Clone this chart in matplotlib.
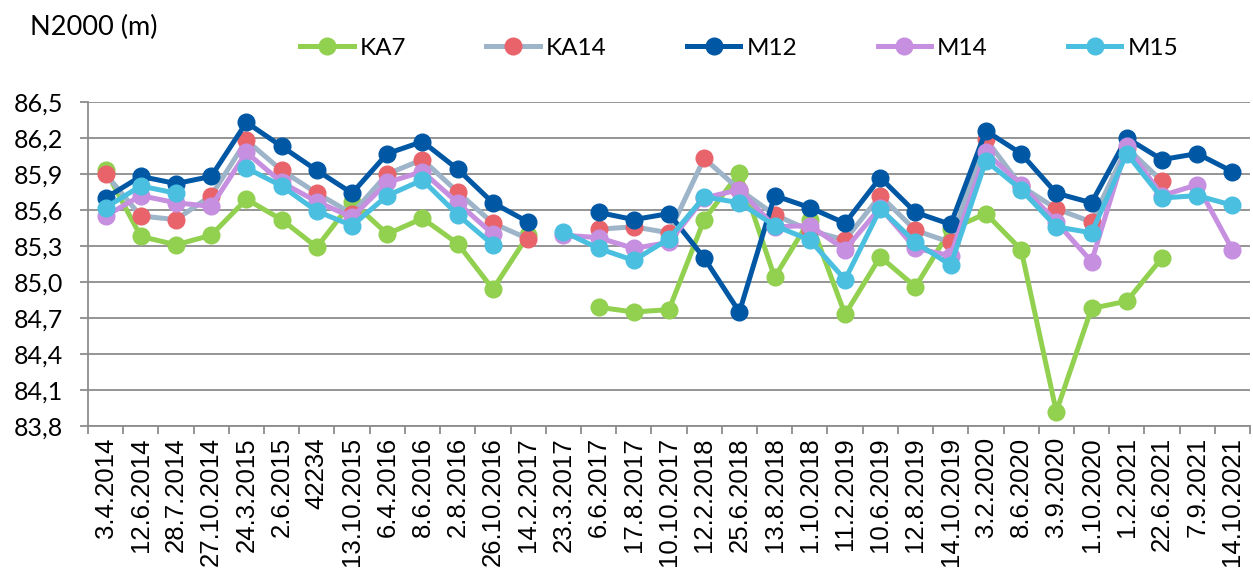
import numpy as np
import matplotlib
matplotlib.use("Agg")
import matplotlib.pyplot as plt

# sampling dates (x categories)
dates = ["3.4.2014", "12.6.2014", "28.7.2014", "27.10.2014", "24.3.2015", "2.6.2015",
         "42234", "13.10.2015", "6.4.2016", "8.6.2016", "2.8.2016", "26.10.2016",
         "14.2.2017", "23.3.2017", "6.6.2017", "17.8.2017", "10.10.2017", "12.2.2018",
         "25.6.2018", "13.8.2018", "1.10.2018", "11.2.2019", "10.6.2019", "12.8.2019",
         "14.10.2019", "3.2.2020", "8.6.2020", "3.9.2020", "1.10.2020", "1.2.2021",
         "22.6.2021", "7.9.2021", "14.10.2021"]

nan = np.nan
# water level N2000 (m) per well
ka7 = [85.93, 85.38, 85.31, 85.39, 85.69, 85.52, 85.29, 85.67, 85.40, 85.53, 85.32, 84.94,
       85.39, nan, 84.79, 84.75, 84.77, 85.52, 85.91, 85.04, 85.52, 84.73, 85.21, 84.96,
       85.44, 85.57, 85.27, 83.92, 84.78, 84.84, 85.20, nan, nan]
ka14 = [85.90, 85.55, 85.52, 85.72, 86.18, 85.93, 85.74, 85.57, 85.90, 86.02, 85.75, 85.49,
        85.36, nan, 85.44, 85.46, 85.41, 86.03, 85.77, 85.56, 85.43, 85.35, 85.72, 85.43,
        85.33, 86.19, 85.80, 85.61, 85.50, 86.12, 85.84, nan, nan]
m12 = [85.70, 85.88, 85.82, 85.88, 86.33, 86.13, 85.93, 85.74, 86.07, 86.17, 85.94, 85.66,
       85.50, nan, 85.58, 85.52, 85.57, 85.20, 84.75, 85.72, 85.62, 85.49, 85.87, 85.58,
       85.48, 86.26, 86.07, 85.74, 85.66, 86.20, 86.02, 86.07, 85.92]
m14 = [85.55, 85.72, 85.66, 85.63, 86.08, 85.83, 85.67, 85.54, 85.83, 85.92, 85.66, 85.40,
       nan, 85.39, 85.37, 85.28, 85.33, 85.70, 85.77, 85.46, 85.47, 85.27, 85.62, 85.28,
       85.22, 86.08, 85.81, 85.50, 85.17, 86.13, 85.72, 85.81, 85.27]
m15 = [85.62, 85.80, 85.74, nan, 85.95, 85.80, 85.59, 85.47, 85.72, 85.85, 85.56, 85.31,
       nan, 85.42, 85.28, 85.18, 85.36, 85.71, 85.66, 85.47, 85.35, 85.02, 85.61, 85.33,
       85.14, 86.01, 85.77, 85.46, 85.41, 86.07, 85.70, 85.72, 85.64]

series = [
    ("KA7", ka7, "#92D050", "#92D050"),
    ("KA14", ka14, "#9DB4C9", "#E9636B"),
    ("M12", m12, "#0057A4", "#0057A4"),
    ("M14", m14, "#C68FE0", "#C68FE0"),
    ("M15", m15, "#4BBFE0", "#4BBFE0"),
]

fig = plt.figure(figsize=(12.53, 5.74), dpi=100)
ax = fig.add_axes([0.0702, 0.2578, 0.9274, 0.5645])

x = np.arange(len(dates))
for name, vals, lc, mc in series:
    ax.plot(x, vals, color=lc, lw=3.6, marker="o", ms=12,
            mfc=mc, mec=mc, label=name, solid_joinstyle="round")

grid_c = "#8C8C8C"
ax.set_ylim(83.8, 86.5)
ax.set_yticks(np.arange(83.8, 86.51, 0.3))
ax.set_yticklabels([f"{v:.1f}".replace(".", ",") for v in np.arange(83.8, 86.51, 0.3)],
                   fontsize=18, family="Lato")
ax.yaxis.grid(True, color=grid_c, lw=1.3)
ax.set_axisbelow(True)
ax.tick_params(axis="y", length=6, width=1.3, color=grid_c, pad=12)

ax.set_xlim(-0.5, len(dates) - 0.5)
ax.set_xticks(np.arange(-0.5, len(dates), 1.0))
ax.set_xticklabels([])
ax.tick_params(axis="x", which="major", length=6, width=1.3, color=grid_c)
ax.set_xticks(x, minor=True)
ax.set_xticklabels(dates, minor=True, rotation=90, fontsize=18.5,
                   family="Liberation Sans", va="top", ha="center")
ax.tick_params(axis="x", which="minor", length=0, pad=8)

for s in ["top", "right"]:
    ax.spines[s].set_visible(False)
for s in ["left", "bottom"]:
    ax.spines[s].set_color(grid_c)
    ax.spines[s].set_linewidth(1.3)

fig.text(0.024, 0.952, "N2000 (m)", fontsize=19.5, family="Lato", va="center")

fig.legend(loc="center", bbox_to_anchor=(0.590, 0.916), ncol=5, frameon=False,
           prop={"family": "Lato", "size": 17.5}, handlelength=2.2,
           handletextpad=0.25, columnspacing=3.3)

fig.savefig("out.png", dpi=100)
